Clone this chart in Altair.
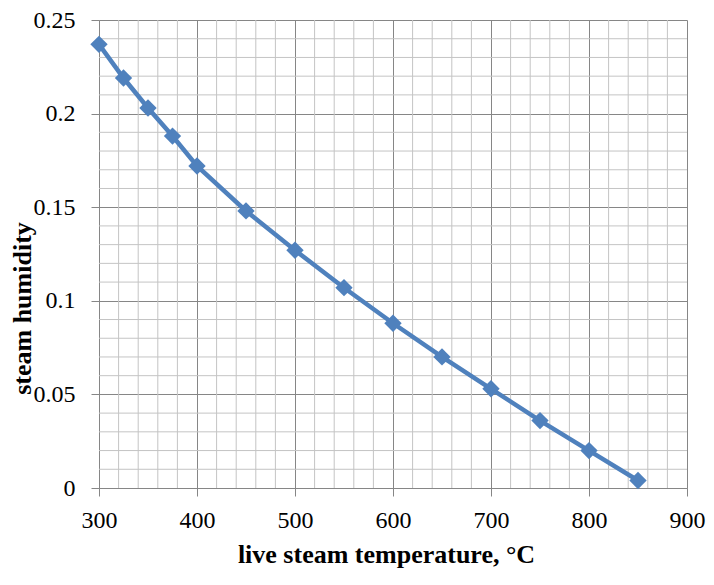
import altair as alt
import pandas as pd

temps = [300, 325, 350, 375, 400, 450, 500, 550, 600, 650, 700, 750, 800, 850]
humidity = [0.237, 0.219, 0.203, 0.188, 0.172, 0.148, 0.127, 0.107, 0.088, 0.070, 0.053, 0.036, 0.020, 0.004]

x_major = [300, 400, 500, 600, 700, 800, 900]
y_major = [0, 0.05, 0.1, 0.15, 0.2, 0.25]
x_minor = [v for v in range(320, 900, 20) if v % 100 != 0]
y_minor = [round(i * 0.01, 2) for i in range(1, 25) if i % 5 != 0]

df = pd.DataFrame({"t": temps, "h": humidity})
xm = pd.DataFrame({"t": x_minor})
ym = pd.DataFrame({"h": y_minor})

FONT = "Liberation Serif"
W, H = 588, 468
xscale = alt.Scale(domain=[300, 900], nice=False, zero=False)
yscale = alt.Scale(domain=[0, 0.25], nice=False)

xaxis = alt.Axis(values=x_major, title="live steam temperature, °C",
                 format="d", grid=True, gridColor="#868686",
                 domainColor="#868686", tickColor="#868686", labelFlush=False,
                 tickSize=8, labelPadding=12,
                 titleX=W / 2 - 7, titleY=74, titleBaseline="alphabetic",
                 titleAlign="center")
yaxis = alt.Axis(values=y_major, title="steam humidity",
                 grid=True, gridColor="#868686",
                 domainColor="#868686", tickColor="#868686", labelFlush=False,
                 tickSize=8, labelPadding=16,
                 titleX=-77, titleY=288, titleBaseline="middle", titleAlign="center",
                 labelExpr="datum.value == 0 ? '0' : format(datum.value, '.2~f')")

minor_x = alt.Chart(xm).mark_rule(color="#C4C4C4", strokeWidth=1).encode(
    x=alt.X("t:Q", scale=xscale, axis=xaxis)
)
minor_y = alt.Chart(ym).mark_rule(color="#C4C4C4", strokeWidth=1).encode(
    y=alt.Y("h:Q", scale=yscale, axis=yaxis)
)

base = alt.Chart(df).encode(
    x=alt.X("t:Q", scale=xscale, axis=xaxis),
    y=alt.Y("h:Q", scale=yscale, axis=yaxis),
)

line = base.mark_line(color="#4F81BD", strokeWidth=4.5)
pts = base.mark_point(shape="diamond", filled=True, size=300, color="#4F81BD", opacity=1)

chart = alt.layer(minor_x, minor_y, line, pts).properties(
    width=W, height=H,
    autosize=alt.AutoSizeParams(type="none"),
    padding={"left": 91, "top": 12, "right": 19, "bottom": 81},
).configure_view(stroke=None).configure_axis(
    labelFont=FONT, titleFont=FONT, labelFontSize=24, titleFontSize=26,
    labelColor="black", titleColor="black", titleFontWeight="bold"
)

chart.save("out.html", embed_options={"renderer": "svg", "actions": False})
